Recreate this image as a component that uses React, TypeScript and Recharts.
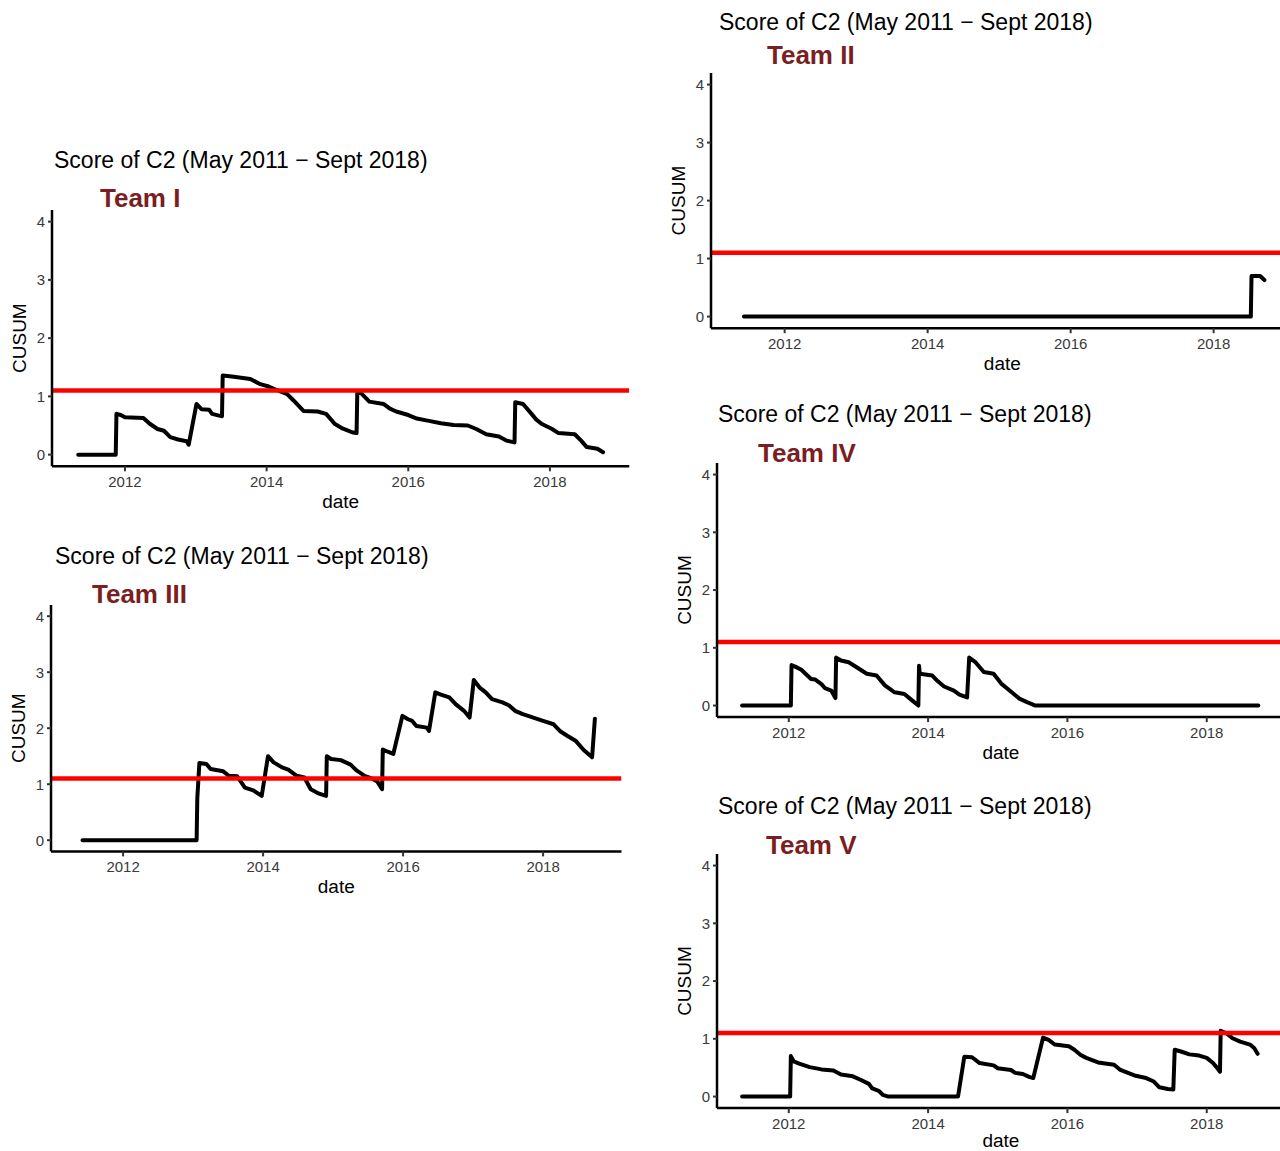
import { LineChart, Line, XAxis, YAxis, ReferenceLine } from "recharts"

// decimal years and CUSUM values
const teamIDates = [2011.34, 2011.87, 2011.88, 2011.94, 2012.0, 2012.26, 2012.35, 2012.46, 2012.55, 2012.64, 2012.75, 2012.87, 2012.9, 2013.01, 2013.08, 2013.19, 2013.23, 2013.33, 2013.37, 2013.38, 2013.51, 2013.77, 2013.91, 2014.03, 2014.14, 2014.29, 2014.38, 2014.52, 2014.72, 2014.84, 2014.96, 2015.07, 2015.22, 2015.27, 2015.28, 2015.33, 2015.45, 2015.65, 2015.74, 2015.83, 2016.0, 2016.12, 2016.29, 2016.46, 2016.64, 2016.84, 2016.96, 2017.1, 2017.28, 2017.39, 2017.5, 2017.51, 2017.62, 2017.74, 2017.8, 2017.88, 2018.03, 2018.12, 2018.35, 2018.44, 2018.52, 2018.67, 2018.75]
const teamIValues = [0, 0, 0.7, 0.68, 0.64, 0.63, 0.53, 0.44, 0.41, 0.3, 0.26, 0.23, 0.17, 0.87, 0.78, 0.77, 0.7, 0.67, 0.66, 1.36, 1.34, 1.3, 1.21, 1.17, 1.11, 1.04, 0.93, 0.75, 0.74, 0.7, 0.53, 0.45, 0.38, 0.37, 1.06, 1.06, 0.91, 0.87, 0.79, 0.74, 0.68, 0.62, 0.58, 0.54, 0.51, 0.5, 0.44, 0.35, 0.31, 0.24, 0.21, 0.9, 0.87, 0.7, 0.61, 0.53, 0.44, 0.37, 0.35, 0.24, 0.13, 0.1, 0.04]

const teamIIDates = [2011.43, 2018.52, 2018.53, 2018.65, 2018.71]
const teamIIValues = [0, 0, 0.7, 0.7, 0.63]

const teamIIIDates = [2011.42, 2013.05, 2013.06, 2013.09, 2013.19, 2013.25, 2013.43, 2013.51, 2013.63, 2013.74, 2013.86, 2013.98, 2014.07, 2014.15, 2014.27, 2014.36, 2014.48, 2014.59, 2014.68, 2014.8, 2014.9, 2014.91, 2014.97, 2015.11, 2015.25, 2015.33, 2015.45, 2015.54, 2015.63, 2015.7, 2015.71, 2015.78, 2015.86, 2015.99, 2016.07, 2016.13, 2016.19, 2016.34, 2016.37, 2016.46, 2016.54, 2016.66, 2016.75, 2016.87, 2016.95, 2017.01, 2017.09, 2017.18, 2017.27, 2017.42, 2017.51, 2017.6, 2017.71, 2017.86, 2018.0, 2018.15, 2018.25, 2018.35, 2018.47, 2018.58, 2018.7, 2018.74]
const teamIIIValues = [0, 0, 0.75, 1.38, 1.36, 1.27, 1.23, 1.15, 1.14, 0.94, 0.89, 0.79, 1.5, 1.39, 1.3, 1.26, 1.15, 1.12, 0.91, 0.83, 0.79, 1.5, 1.45, 1.43, 1.35, 1.25, 1.15, 1.11, 1.05, 0.91, 1.62, 1.58, 1.54, 2.22, 2.16, 2.13, 2.04, 2.01, 1.95, 2.64, 2.6, 2.55, 2.43, 2.31, 2.19, 2.86, 2.73, 2.64, 2.52, 2.46, 2.41, 2.31, 2.25, 2.19, 2.13, 2.07, 1.94, 1.86, 1.77, 1.61, 1.48, 2.17]

const teamIVDates = [2011.33, 2012.03, 2012.04, 2012.1, 2012.18, 2012.32, 2012.38, 2012.47, 2012.52, 2012.61, 2012.67, 2012.68, 2012.75, 2012.86, 2012.98, 2013.12, 2013.26, 2013.38, 2013.52, 2013.66, 2013.77, 2013.86, 2013.87, 2013.88, 2014.06, 2014.14, 2014.23, 2014.37, 2014.45, 2014.56, 2014.59, 2014.68, 2014.8, 2014.94, 2015.05, 2015.17, 2015.31, 2015.42, 2015.54, 2018.74]
const teamIVValues = [0, 0, 0.7, 0.67, 0.62, 0.46, 0.45, 0.37, 0.3, 0.26, 0.13, 0.83, 0.78, 0.75, 0.66, 0.55, 0.52, 0.35, 0.23, 0.2, 0.09, 0, 0.69, 0.55, 0.52, 0.42, 0.33, 0.26, 0.19, 0.14, 0.83, 0.75, 0.58, 0.55, 0.38, 0.26, 0.12, 0.06, 0, 0]

const teamVDates = [2011.33, 2012.02, 2012.03, 2012.07, 2012.15, 2012.3, 2012.47, 2012.64, 2012.75, 2012.92, 2013.03, 2013.15, 2013.2, 2013.29, 2013.35, 2013.43, 2014.43, 2014.52, 2014.63, 2014.74, 2014.94, 2015.0, 2015.19, 2015.25, 2015.36, 2015.45, 2015.51, 2015.65, 2015.73, 2015.82, 2016.02, 2016.1, 2016.19, 2016.27, 2016.44, 2016.67, 2016.76, 2016.87, 2016.98, 2017.13, 2017.24, 2017.32, 2017.44, 2017.52, 2017.54, 2017.63, 2017.75, 2017.89, 2018.0, 2018.09, 2018.14, 2018.19, 2018.2, 2018.29, 2018.37, 2018.48, 2018.62, 2018.68, 2018.73]
const teamVValues = [0, 0, 0.7, 0.61, 0.57, 0.51, 0.47, 0.45, 0.38, 0.35, 0.29, 0.22, 0.14, 0.1, 0.03, 0, 0, 0.69, 0.68, 0.58, 0.54, 0.49, 0.46, 0.41, 0.39, 0.34, 0.32, 1.02, 0.98, 0.9, 0.87, 0.81, 0.72, 0.67, 0.59, 0.55, 0.46, 0.41, 0.36, 0.32, 0.26, 0.16, 0.13, 0.12, 0.81, 0.78, 0.73, 0.71, 0.67, 0.58, 0.51, 0.43, 1.14, 1.09, 1.01, 0.95, 0.9, 0.84, 0.74]

const xTicks = [2012, 2014, 2016, 2018]
const yTicks = [0, 1, 2, 3, 4]
const threshold = 1.1
const chartTitle = "Score of C2 (May 2011 \u2212 Sept 2018)"

const X_MIN = 2010.97
const X_MAX = 2019.12
const Y_MIN = -0.2
const Y_MAX = 4.2
const Y_W = 50
const X_H = 50
const M_TOP = 10
const M_RIGHT = 10
const FONT = "'Liberation Sans', Arial, Helvetica, sans-serif"

const panels = [
  { team: "Team I", dates: teamIDates, values: teamIValues, x2012: 125, x2018: 550, y0: 455, y4: 222, titleX: 54, titleY: 160, teamX: 100, teamY: 198, dateOffset: 8 },
  { team: "Team II", dates: teamIIDates, values: teamIIValues, x2012: 785, x2018: 1214, y0: 317, y4: 85, titleX: 719, titleY: 22, teamX: 767, teamY: 55, dateOffset: 8 },
  { team: "Team III", dates: teamIIIDates, values: teamIIIValues, x2012: 123, x2018: 543, y0: 840, y4: 616, titleX: 55, titleY: 556, teamX: 92, teamY: 594, dateOffset: 8 },
  { team: "Team IV", dates: teamIVDates, values: teamIVValues, x2012: 789, x2018: 1207, y0: 706, y4: 475, titleX: 718, titleY: 414, teamX: 758, teamY: 453, dateOffset: 8 },
  { team: "Team V", dates: teamVDates, values: teamVValues, x2012: 789, x2018: 1207, y0: 1097, y4: 866, titleX: 718, titleY: 806, teamX: 766, teamY: 845, dateOffset: 11 },
]

function Panel({ p }: { p: (typeof panels)[number] }) {
  const data = p.dates.map((t, i) => ({ t, cusum: p.values[i] }))

  const pxYr = (p.x2018 - p.x2012) / 6
  const plotLeft = p.x2012 - (2012 - X_MIN) * pxYr
  const plotRight = p.x2018 + (X_MAX - 2018) * pxYr
  const unit = (p.y0 - p.y4) / 4
  const plotTop = p.y4 - (Y_MAX - 4) * unit
  const plotBottom = p.y0 - Y_MIN * unit

  const width = plotRight - plotLeft + Y_W + M_RIGHT
  const height = plotBottom - plotTop + M_TOP + X_H

  const tickStyle = { fill: "#3a3a3a", fontSize: 15, fontFamily: FONT }

  return (
    <>
      <div
        style={{
          position: "absolute",
          left: p.titleX,
          top: p.titleY - 11.2,
          fontFamily: FONT,
          fontSize: 23,
          lineHeight: 1,
          whiteSpace: "nowrap",
          color: "#000",
        }}
      >
        {chartTitle}
      </div>
      <div
        style={{
          position: "absolute",
          left: p.teamX,
          top: p.teamY - 12.7,
          fontFamily: FONT,
          fontSize: 26,
          fontWeight: "bold",
          lineHeight: 1,
          whiteSpace: "nowrap",
          color: "#7a1e22",
        }}
      >
        {p.team}
      </div>
      <div style={{ position: "absolute", left: plotLeft - Y_W, top: plotTop - M_TOP }}>
        <LineChart width={width} height={height} data={data} margin={{ top: M_TOP, right: M_RIGHT, bottom: 0, left: 0 }}>
          <XAxis
            dataKey="t"
            type="number"
            domain={[X_MIN, X_MAX]}
            ticks={xTicks}
            allowDataOverflow
            height={X_H}
            axisLine={{ stroke: "#000", strokeWidth: 2.5 }}
            tickLine={{ stroke: "#333", strokeWidth: 2 }}
            tickSize={5}
            tickMargin={5}
            tick={tickStyle}
            label={{ value: "date", position: "insideBottom", offset: p.dateOffset, style: { fill: "#000", fontSize: 19, fontFamily: FONT } }}
          />
          <YAxis
            type="number"
            domain={[Y_MIN, Y_MAX]}
            ticks={yTicks}
            allowDataOverflow
            width={Y_W}
            axisLine={{ stroke: "#000", strokeWidth: 2.5 }}
            tickLine={{ stroke: "#333", strokeWidth: 2 }}
            tickSize={4}
            tickMargin={3}
            tick={tickStyle}
            label={{
              value: "CUSUM",
              angle: -90,
              position: "insideLeft",
              offset: 17,
              style: { fill: "#000", fontSize: 19, fontFamily: FONT, textAnchor: "middle" },
            }}
          />
          <Line
            type="linear"
            dataKey="cusum"
            stroke="#000"
            strokeWidth={4}
            strokeLinejoin="round"
            strokeLinecap="round"
            dot={false}
            isAnimationActive={false}
          />
          <ReferenceLine y={threshold} stroke="#ff0000" strokeWidth={4.5} ifOverflow="hidden" />
        </LineChart>
      </div>
    </>
  )
}

export default function App() {
  return (
    <div
      style={{
        position: "absolute",
        left: 0,
        top: 0,
        width: 1280,
        height: 1151,
        overflow: "hidden",
        background: "#fff",
      }}
    >
      {panels.map((p) => (
        <Panel key={p.team} p={p} />
      ))}
    </div>
  )
}
